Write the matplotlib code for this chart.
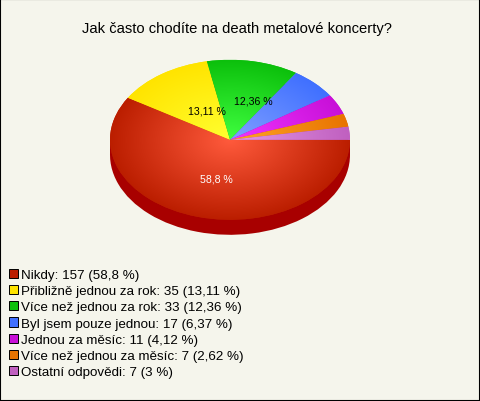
#!/usr/bin/env python3
""" Pie chart: Jak často chodíte na death metalové koncerty? """

import numpy as np
import matplotlib
matplotlib.use("Agg")
import matplotlib.pyplot as plt
from matplotlib.colors import LinearSegmentedColormap
from matplotlib.patches import Rectangle

plt.rcParams["font.family"] = ["Liberation Sans", "DejaVu Sans"]

labels = ["Nikdy", "Přibližně jednou za rok", "Více než jednou za rok",
          "Byl jsem pouze jednou", "Jednou za měsíc",
          "Více než jednou za měsíc", "Ostatní odpovědi"]
counts = [157, 35, 33, 17, 11, 7, 7]
percents = ["58,8", "13,11", "12,36", "6,37", "4,12", "2,62", "3"]
edge_colors = ["#bb1e00", "#ffe400", "#0cc00c", "#4070ff",
               "#c810d8", "#e87400", "#c060c0"]
center_colors = ["#ff5a3c", "#ffff30", "#40ff40", "#80a0ff",
                 "#f035ff", "#ffa428", "#e498e4"]
side_color = "#a80000"
background = "#f5f5ec"

# pie is 240x160 px, centre at (230, 140), 15 px deep
W, H = 480, 402
RX, RY = 120, 80
CX, CY = 230, 140.8
DEPTH = 15 / RY

fig = plt.figure(figsize=(W / 100, H / 100), dpi=100, facecolor=background)
ax = fig.add_axes([0, 0, 1, 1])

wedges, _ = ax.pie(counts, colors=edge_colors, startangle=0, counterclock=False,
                   wedgeprops={"linewidth": 0})
ax.pie(counts, colors=[side_color] * len(counts), startangle=0, counterclock=False,
       center=(0, -DEPTH), wedgeprops={"linewidth": 0, "zorder": 0.5})
ax.add_patch(Rectangle((-1, -DEPTH), 2, DEPTH, color=side_color, lw=0, zorder=0.5))

# radial shading, one clipped image per slice
xx, yy = np.meshgrid(np.linspace(-1, 1, 300), np.linspace(-1, 1, 300))
radius = np.clip(np.hypot(xx, yy), 0, 1)
for wedge, c0, c1 in zip(wedges, center_colors, edge_colors):
    cmap = LinearSegmentedColormap.from_list("shade", [c0, c1])
    im = ax.imshow(radius, cmap=cmap, vmin=0, vmax=1, extent=(-1, 1, -1, 1),
                   origin="lower", aspect="auto", zorder=2)
    im.set_clip_path(wedge)

ax.set_aspect("auto")
ax.set_xlim(-CX / RX, (W - CX) / RX)
ax.set_ylim(-(H - CY) / RY, CY / RY)
ax.axis("off")


def px(x, y):
    """ Convert picture pixels to figure fractions. """
    return x / W, 1 - y / H


fig.text(*px(236.5, 29), "Jak často chodíte na death metalové koncerty?",
         fontsize=10.6, ha="center", va="center", color="black")
fig.text(*px(216, 180), percents[0] + " %", fontsize=7.6, color="white",
         ha="center", va="center")
fig.text(*px(207, 112), percents[1] + " %", fontsize=7.6, color="black",
         ha="center", va="center")
fig.text(*px(253, 102), percents[2] + " %", fontsize=7.6, color="black",
         ha="center", va="center")

legend_labels = [f"{n}: {c} ({p} %)" for n, c, p in zip(labels, counts, percents)]
leg = fig.legend(wedges, legend_labels, loc="upper left", bbox_to_anchor=px(6, 267),
                 frameon=False, fontsize=9.6, handlelength=0.68, handleheight=0.68,
                 handletextpad=0.25, labelspacing=0.3, borderpad=0.2, borderaxespad=0)
for h in leg.legend_handles:
    h.set_edgecolor("black")
    h.set_linewidth(0.7)

fig.add_artist(Rectangle((0, 0), 1, 1, transform=fig.transFigure, fill=False,
                         edgecolor="black", linewidth=1.5))

fig.savefig("out.png", dpi=100, facecolor=background)
